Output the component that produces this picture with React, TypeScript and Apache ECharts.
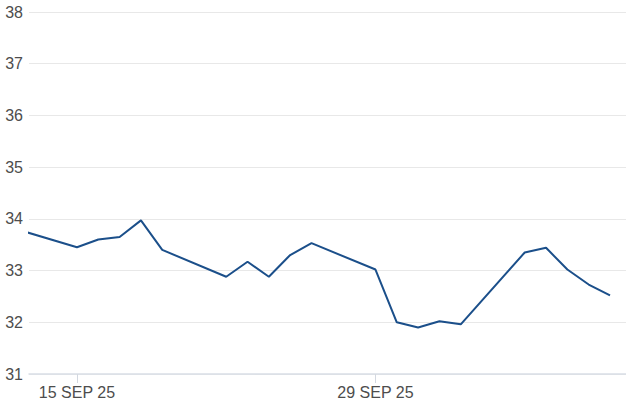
import React, { useEffect, useRef } from "react";
import * as echarts from "echarts";

const dates: string[] = [
  "2025-09-12", "2025-09-15", "2025-09-16", "2025-09-17", "2025-09-18", "2025-09-19",
  "2025-09-22", "2025-09-23", "2025-09-24", "2025-09-25", "2025-09-26",
  "2025-09-29", "2025-09-30", "2025-10-01", "2025-10-02", "2025-10-03",
  "2025-10-06", "2025-10-07", "2025-10-08", "2025-10-09", "2025-10-10",
];
const values: number[] = [
  33.82, 33.45, 33.6, 33.65, 33.97, 33.4,
  32.88, 33.17, 32.88, 33.3, 33.53,
  33.02, 32.0, 31.9, 32.02, 31.96,
  33.35, 33.44, 33.02, 32.73, 32.52,
];
const tickDates: string[] = ["2025-09-15", "2025-09-29"];
const tickLabels: string[] = ["15 SEP 25", "29 SEP 25"];
const rangeStart = "2025-09-12"; // window starts at 18:00 of this day
const rangeEnd = "2025-10-10"; // window ends at 18:00 of this day
const yMin = 31;
const yMax = 38;

const DAY = 86400000;
const BASE = Date.UTC(2025, 8, 15);
function dayNum(d: string, h = 0): number {
  const [y, m, day] = d.split("-").map(Number);
  return (Date.UTC(y, m - 1, day, h) - BASE) / DAY;
}

export default function App() {
  const ref = useRef<HTMLDivElement>(null);
  useEffect(() => {
    if (!ref.current) return;
    const chart = echarts.init(ref.current, undefined, { renderer: "svg" });
    const tickPos = tickDates.map((d) => dayNum(d));
    const labelOf = (v: number) => {
      const i = tickPos.findIndex((t) => Math.abs(t - v) < 1e-6);
      return i >= 0 ? tickLabels[i] : "";
    };
    const font = "Arial, 'Liberation Sans', sans-serif";
    chart.setOption({
      animation: false,
      grid: { left: 29, right: 0, top: 12, bottom: 43, containLabel: false },
      xAxis: {
        type: "value",
        min: dayNum(rangeStart, 18),
        max: dayNum(rangeEnd, 18),
        axisLine: { show: true, onZero: false, lineStyle: { color: "#d9dee6", width: 1.5 } },
        axisTick: {
          show: true,
          customValues: tickPos,
          length: 9,
          lineStyle: { color: "#d3d8e0", width: 1 },
        },
        axisLabel: {
          customValues: tickPos,
          formatter: (v: number) => labelOf(v),
          color: "#4d4d4d",
          fontSize: 16,
          fontFamily: font,
          margin: 10,
        },
        splitLine: { show: false },
      },
      yAxis: {
        type: "value",
        min: yMin,
        max: yMax,
        interval: 1,
        axisLine: { show: false },
        axisTick: { show: false },
        axisLabel: {
          color: "#4d4d4d",
          fontSize: 16,
          fontFamily: font,
          margin: 6,
        },
        splitLine: { show: true, lineStyle: { color: "#e8e8e8", width: 1 } },
      },
      series: [
        {
          type: "line",
          data: dates.map((d, i) => [dayNum(d), values[i]]),
          showSymbol: false,
          symbol: "none",
          clip: true,
          lineStyle: { color: "#1b4f8a", width: 2 },
        },
      ],
    });
    return () => chart.dispose();
  }, []);
  return (
    <div
      ref={ref}
      style={{ position: "fixed", left: 0, top: 0, width: 626, height: 417, background: "#fff" }}
    />
  );
}
